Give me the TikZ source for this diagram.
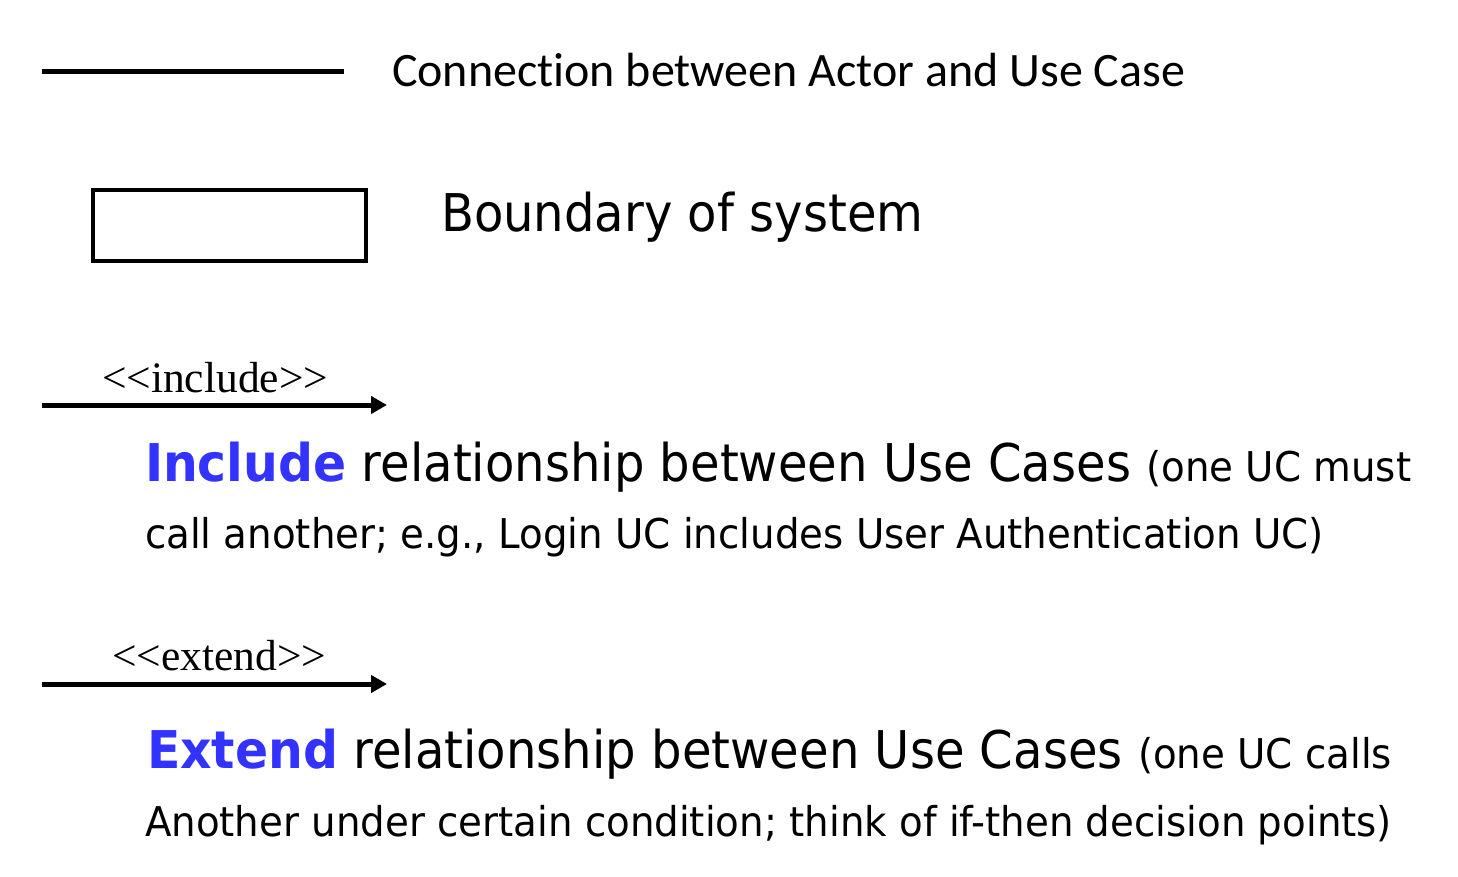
\documentclass[tikz,border=0pt]{standalone}
\usepackage{fontspec}
\usetikzlibrary{arrows.meta}
\setmainfont{Liberation Serif}
\newfontfamily\calib[Ligatures=NoCommon]{Carlito}
\newfontfamily\tah[FakeStretch=0.925, BoldFeatures={FakeStretch=0.94}]{DejaVu Sans}
\newfontfamily\tahs[FakeStretch=0.945]{DejaVu Sans}
\definecolor{ucblue}{RGB}{51,51,255}
\tikzset{
  lbl/.style={anchor=base west, inner sep=0pt, outer sep=0pt},
  thickline/.style={line width=5pt},
  relarrow/.style={line width=5pt, -{Triangle[length=16pt,width=17pt]}},
}
\begin{document}
\begin{tikzpicture}[x=1pt,y=-1pt]
\useasboundingbox (0,0) rectangle (1458,877);
% connection line
\coordinate (c1) at (42,72);
\coordinate (c2) at (344,72);
\draw[thickline] (c1) -- (c2);
\node[lbl, font=\calib\fontsize{48}{56}\selectfont] (t1) at (392,87) {Connection between Actor and Use Case};
% boundary
\node[draw, line width=4pt, minimum width=273pt, minimum height=71pt, inner sep=0pt, anchor=north west] (box) at (91,188) {};
\node[lbl, font=\tah\fontsize{52}{60}\selectfont] (t2) at (441,232) {Boundary of system};
% include
\coordinate (i1) at (42,405);
\coordinate (i2) at (387,405);
\draw[relarrow] (i1) -- (i2);
\node[lbl, font=\fontsize{43.5}{50}\selectfont] (inc) at (102,392) {<{}<include>{}>};
\node[lbl, font=\tah\fontsize{52}{60}\selectfont] (t3) at (145,481) {\textcolor{ucblue}{\bfseries Include} relationship between Use Cases {\tahs\fontsize{41}{50}\selectfont (one UC must}};
\node[lbl, font=\tahs\fontsize{41}{50}\selectfont] (t4) at (145,548) {call another; e.g., Login UC includes User Authentication UC)};
% extend
\coordinate (e1) at (42,684);
\coordinate (e2) at (387,684);
\draw[relarrow] (e1) -- (e2);
\node[lbl, font=\fontsize{43.5}{50}\selectfont] (ext) at (112,670) {<{}<extend>{}>};
\node[lbl, font=\tah\fontsize{52}{60}\selectfont] (t5) at (147,768) {\textcolor{ucblue}{\bfseries Extend} relationship between Use Cases {\tahs\fontsize{41}{50}\selectfont (one UC calls}};
\node[lbl, font=\tahs\fontsize{41}{50}\selectfont] (t6) at (145,836) {Another under certain condition; think of if-then decision points)};
\end{tikzpicture}
\end{document}
